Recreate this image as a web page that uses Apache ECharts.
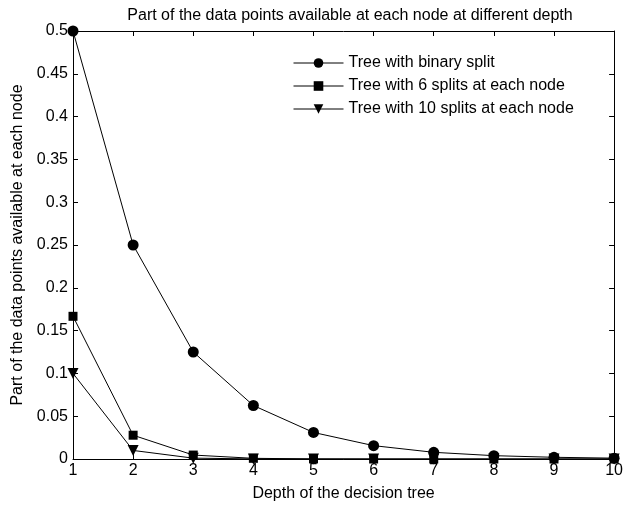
<!DOCTYPE html>
<html>
<head>
<meta charset="utf-8">
<script src="https://cdn.jsdelivr.net/npm/echarts@6/dist/echarts.min.js"></script>
<style>
    html, body { margin: 0; padding: 0; background: #fff; }
    #chart { width: 626px; height: 507px; }
</style>
</head>
<body>
<div id="chart"></div>
<script>
var depth = [1, 2, 3, 4, 5, 6, 7, 8, 9, 10];
var binarySplit = [0.5, 0.25, 0.125, 0.0625, 0.031, 0.0156, 0.0078, 0.0039, 0.002, 0.001];
var sixSplits = [0.1667, 0.0278, 0.0046, 0.0008, 0.0001, 0, 0, 0, 0, 0];
var tenSplits = [0.1, 0.01, 0.001, 0.0001, 0, 0, 0, 0, 0, 0];
var seriesNames = [
    'Tree with binary split',
    'Tree with 6 splits at each node',
    'Tree with 10 splits at each node'
];

var font = 'Liberation Sans, Arial, sans-serif';
var fontSize = 16;

var pairs = function (values) {
    return depth.map(function (d, i) {
        return [d, values[i]];
    });
};

var lineSeries = function (name, values, symbol, size, rotate) {
    return {
        name: name,
        type: 'line',
        data: pairs(values),
        symbol: symbol,
        symbolSize: size,
        symbolRotate: rotate,
        showAllSymbol: true,
        clip: false,
        animation: false,
        lineStyle: {color: '#000', width: 1},
        itemStyle: {color: '#000'}
    };
};

var axisBase = function () {
    return {
        axisLine: {show: true, onZero: false, lineStyle: {color: '#000', width: 1}},
        axisTick: {show: true, inside: true, length: 5, lineStyle: {color: '#000'}},
        splitLine: {show: false}
    };
};

var xBottom = axisBase();
xBottom.type = 'value';
xBottom.min = 1;
xBottom.max = 10;
xBottom.interval = 1;
xBottom.position = 'bottom';
xBottom.name = 'Depth of the decision tree';
xBottom.nameLocation = 'middle';
xBottom.nameGap = 27;
xBottom.nameTextStyle = {color: '#000', fontSize: fontSize, fontFamily: font};
xBottom.axisLabel = {color: '#000', fontSize: fontSize, fontFamily: font, margin: 4};

var xTop = axisBase();
xTop.type = 'value';
xTop.min = 1;
xTop.max = 10;
xTop.interval = 1;
xTop.position = 'top';
xTop.axisLabel = {show: false};

var yLeft = axisBase();
yLeft.type = 'value';
yLeft.min = 0;
yLeft.max = 0.5;
yLeft.interval = 0.05;
yLeft.position = 'left';
yLeft.name = 'Part of the data points available at each node';
yLeft.nameLocation = 'middle';
yLeft.nameGap = 43;
yLeft.nameTextStyle = {color: '#000', fontSize: fontSize, fontFamily: font};
yLeft.axisLabel = {color: '#000', fontSize: fontSize, fontFamily: font, margin: 5};

var yRight = axisBase();
yRight.type = 'value';
yRight.min = 0;
yRight.max = 0.5;
yRight.interval = 0.05;
yRight.position = 'right';
yRight.axisLabel = {show: false};

var chart = echarts.init(document.getElementById('chart'));
chart.setOption({
    backgroundColor: '#fff',
    animation: false,
    title: {
        text: 'Part of the data points available at each node at different depth',
        left: 345,
        textAlign: 'center',
        top: 3,
        textStyle: {color: '#000', fontSize: fontSize, fontWeight: 'normal', fontFamily: font}
    },
    legend: {
        left: 288,
        top: 50,
        orient: 'vertical',
        itemWidth: 50,
        itemHeight: 12,
        itemGap: 7,
        lineStyle: {width: 1},
        textStyle: {color: '#000', fontSize: fontSize, fontFamily: font},
        data: seriesNames
    },
    grid: {left: 73, right: 8, top: 31, bottom: 46},
    xAxis: [xBottom, xTop],
    yAxis: [yLeft, yRight],
    series: [
        lineSeries(seriesNames[0], binarySplit, 'circle', 11, 0),
        lineSeries(seriesNames[1], sixSplits, 'rect', 9, 0),
        lineSeries(seriesNames[2], tenSplits, 'triangle', 11, 180)
    ]
});
</script>
</body>
</html>
